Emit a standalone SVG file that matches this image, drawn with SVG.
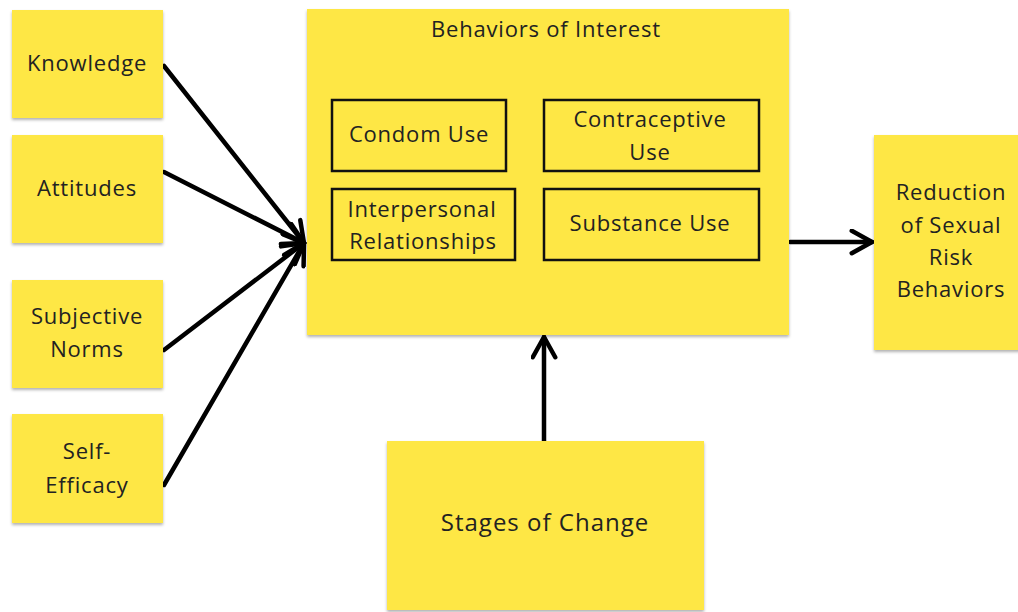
<svg xmlns="http://www.w3.org/2000/svg" width="1018" height="612" viewBox="0 0 1018 612">
<defs>
<style>
.box{fill:#fee745;filter:url(#sh)}
.inner{fill:none;stroke:#111;stroke-width:2.5}
.t{font-family:"Open Sans","DejaVu Sans",sans-serif;font-size:22px;letter-spacing:0.8px;fill:#222;text-anchor:middle}
.c{stroke:#000;stroke-width:4.5;fill:none;stroke-linecap:round}
</style>
<filter id="sh" x="-5%" y="-5%" width="110%" height="115%">
<feDropShadow dx="0" dy="2" stdDeviation="1.5" flood-color="#000" flood-opacity="0.3"/>
</filter>
<marker id="ah" viewBox="0 0 12 12" refX="11" refY="6" markerWidth="6" markerHeight="6" orient="auto" markerUnits="strokeWidth">
<path d="M2,1 L11,6 L2,11" fill="none" stroke="#000" stroke-width="2" stroke-linecap="round" stroke-linejoin="round"/>
</marker>
</defs>
<rect width="1018" height="612" fill="#fff"/>
<g id="connectors">
<line class="c" x1="164" y1="66" x2="304" y2="243" marker-end="url(#ah)"/>
<line class="c" x1="164" y1="172" x2="304" y2="243" marker-end="url(#ah)"/>
<line class="c" x1="164" y1="350" x2="304" y2="243" marker-end="url(#ah)"/>
<line class="c" x1="164" y1="485" x2="304" y2="243" marker-end="url(#ah)"/>
<line class="c" x1="790" y1="242" x2="872" y2="242" marker-end="url(#ah)"/>
<line class="c" x1="544" y1="441" x2="544" y2="337" marker-end="url(#ah)"/>
</g>
<g id="knowledge"><rect class="box" x="12" y="10" width="151" height="108"/><text class="t" x="87" y="71">Knowledge</text></g>
<g id="attitudes"><rect class="box" x="12" y="135" width="151" height="108"/><text class="t" x="87" y="196">Attitudes</text></g>
<g id="subjective-norms"><rect class="box" x="12" y="280" width="151" height="108"/><text class="t" x="87" y="324">Subjective</text><text class="t" x="87" y="357">Norms</text></g>
<g id="self-efficacy"><rect class="box" x="12" y="414" width="151" height="109"/><text class="t" x="87" y="459">Self-</text><text class="t" x="87" y="493">Efficacy</text></g>
<g id="behaviors"><rect class="box" x="307" y="9" width="482" height="326"/><text class="t" x="546" y="37">Behaviors of Interest</text>
<g id="condom-use"><rect class="inner" x="332" y="100" width="174" height="71"/><text class="t" x="419" y="142">Condom Use</text></g>
<g id="contraceptive-use"><rect class="inner" x="544" y="100" width="215" height="71"/><text class="t" x="650" y="127">Contraceptive</text><text class="t" x="650" y="160">Use</text></g>
<g id="interpersonal"><rect class="inner" x="332" y="189" width="183" height="71"/><text class="t" x="422" y="217">Interpersonal</text><text class="t" x="423" y="249">Relationships</text></g>
<g id="substance-use"><rect class="inner" x="544" y="189" width="215" height="71"/><text class="t" x="650" y="231">Substance Use</text></g>
</g>
<g id="reduction"><rect class="box" x="874" y="135" width="150" height="215"/><text class="t" x="951" y="200">Reduction</text><text class="t" x="951" y="233">of Sexual</text><text class="t" x="951" y="265">Risk</text><text class="t" x="951" y="297">Behaviors</text></g>
<g id="stages"><rect class="box" x="387" y="441" width="317" height="169"/><text class="t" x="545" y="531" style="font-size:24px;letter-spacing:1px">Stages of Change</text></g>
</svg>
